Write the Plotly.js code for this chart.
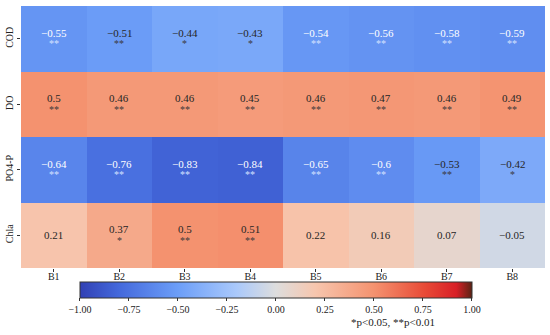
<!DOCTYPE html>
<html>
<head>
<meta charset="utf-8">
<script src="https://cdn.plot.ly/plotly-3.0.1.min.js"></script>
<style>html,body{margin:0;padding:0;background:#fff;}#chart{width:550px;height:335px;}</style>
</head>
<body>
<div id="chart"></div>
<script>
const rows = ["COD", "DO", "PO4-P", "Chla"];
const cols = ["B1", "B2", "B3", "B4", "B5", "B6", "B7", "B8"];
const codValues = [-0.55, -0.51, -0.44, -0.43, -0.54, -0.56, -0.58, -0.59];
const doValues = [0.5, 0.46, 0.46, 0.45, 0.46, 0.47, 0.46, 0.49];
const po4Values = [-0.64, -0.76, -0.83, -0.84, -0.65, -0.6, -0.53, -0.42];
const chlaValues = [0.21, 0.37, 0.5, 0.51, 0.22, 0.16, 0.07, -0.05];
const codStars = ["**", "**", "*", "*", "**", "**", "**", "**"];
const doStars = ["**", "**", "**", "**", "**", "**", "**", "**"];
const po4Stars = ["**", "**", "**", "**", "**", "**", "**", "*"];
const chlaStars = ["", "*", "**", "**", "", "", "", ""];
const colorbarTicks = [-1, -0.75, -0.5, -0.25, 0, 0.25, 0.5, 0.75, 1];
const noteText = "*p<0.05, **p<0.01";

const z = [codValues, doValues, po4Values, chlaValues];
const stars = [codStars, doStars, po4Stars, chlaStars];

const font = "Liberation Serif, Times New Roman, serif";
const colorscale = [
  [0.0, "#3040b4"],
  [0.1, "#4469dc"],
  [0.25, "#6c9ef8"],
  [0.4, "#aac9fb"],
  [0.5, "#dddddd"],
  [0.6, "#f7c6ae"],
  [0.75, "#f4926f"],
  [0.88, "#e84a36"],
  [0.96, "#d81f26"],
  [1.0, "#5a2214"]
];

const fmt = v => (v < 0 ? "\u2212" : "") + String(Math.abs(v));

const annotations = [];
z.forEach((row, i) => {
  row.forEach((v, j) => {
    const light = v < -0.535;
    const s = stars[i][j];
    annotations.push({
      x: cols[j], y: rows[i], xref: "x", yref: "y",
      text: fmt(v), showarrow: false,
      yshift: s ? 6 : 0,
      font: {family: font, size: 11, color: light ? "#ffffff" : "#262626"}
    });
    if (s) {
      annotations.push({
        x: cols[j], y: rows[i], xref: "x", yref: "y",
        text: s, showarrow: false, yshift: -5,
        font: {family: font, size: 10, color: light ? "#d6e2ff" : "#3a3a3a"}
      });
    }
  });
});
annotations.push({
  x: 0.71, y: -0.206, xref: "paper", yref: "paper",
  xanchor: "center", yanchor: "middle",
  text: noteText, showarrow: false,
  font: {family: font, size: 11, color: "#222"}
});

const data = [{
  type: "heatmap",
  x: cols, y: rows, z: z,
  zmin: -1, zmax: 1,
  colorscale: colorscale,
  xgap: 0, ygap: 0,
  hoverinfo: "none",
  colorbar: {
    orientation: "h",
    x: 0.4866, xanchor: "center",
    y: -0.053, yanchor: "top",
    lenmode: "pixels", len: 392,
    thickness: 16,
    outlinewidth: 1, outlinecolor: "#333",
    tickvals: colorbarTicks,
    tickformat: ".2f",
    ticks: "outside", ticklen: 3, tickcolor: "#333",
    tickfont: {family: font, size: 10, color: "#222"},
    xpad: 0, ypad: 0
  }
}];

const layout = {
  width: 550, height: 335,
  margin: {l: 21, r: 5, t: 6, b: 67},
  paper_bgcolor: "#fff", plot_bgcolor: "#fff",
  xaxis: {
    type: "category", showgrid: false, zeroline: false,
    ticks: "outside", ticklen: 3, tickcolor: "#333",
    ticklabelstandoff: -4,
    tickfont: {family: font, size: 10, color: "#222"}
  },
  yaxis: {
    type: "category", autorange: "reversed", showgrid: false, zeroline: false,
    ticks: "outside", ticklen: 3, tickcolor: "#333",
    tickangle: -90,
    tickfont: {family: font, size: 10, color: "#222"}
  },
  annotations: annotations,
  showlegend: false
};

Plotly.newPlot("chart", data, layout, {displayModeBar: false, staticPlot: true});
</script>
</body>
</html>
